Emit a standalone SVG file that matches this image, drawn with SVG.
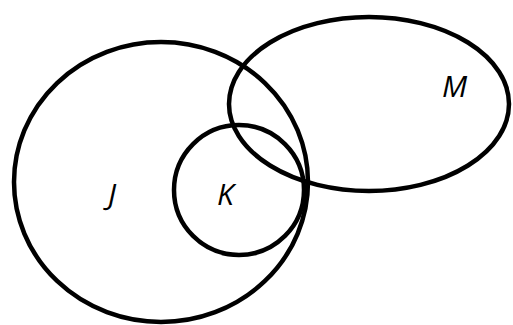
<svg xmlns="http://www.w3.org/2000/svg" width="513" height="325" viewBox="0 0 513 325">
<style>
.set{fill:none;stroke:#000;stroke-width:4.5}
.lbl{font-family:"Open Sans","Liberation Sans",sans-serif;font-style:italic;font-size:30px;fill:#000}
</style>
<rect width="513" height="325" fill="#fff"/>
<g id="J"><ellipse class="set" cx="161" cy="182" rx="147" ry="140"/><text class="lbl" x="108" y="205">J</text></g>
<g id="K"><circle class="set" cx="239" cy="190" r="65"/><text class="lbl" x="217" y="205">K</text></g>
<g id="M"><ellipse class="set" cx="369" cy="104" rx="140" ry="87"/><text class="lbl" x="442" y="97">M</text></g>
<g id="connectors"></g>
</svg>
